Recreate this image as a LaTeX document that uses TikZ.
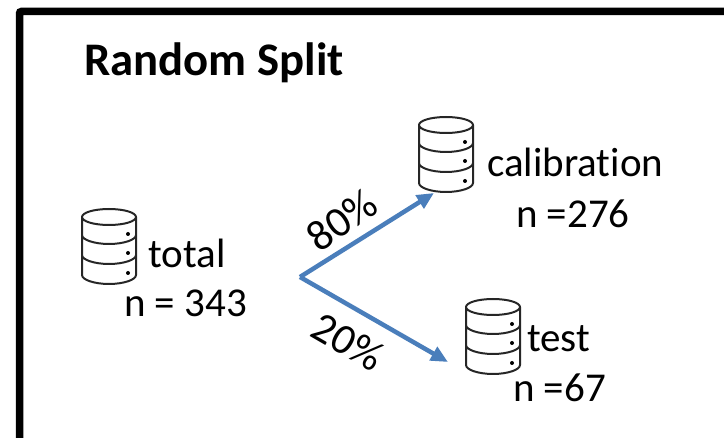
\documentclass[tikz,border=0pt]{standalone}
\usepackage{fontspec}
\setmainfont[Ligatures=CommonOff]{Carlito}
\usetikzlibrary{arrows.meta}
\definecolor{arrowblue}{HTML}{4A7EBB}
\tikzset{
  lbl/.style={inner sep=0pt,font=\fontsize{41}{41}\selectfont,text=black},
  ttl/.style={inner sep=0pt,font=\fontsize{46.7}{46.7}\selectfont\bfseries,text=black},
  pct/.style={inner sep=0pt,font=\fontsize{43}{43}\selectfont,text=black},
  flow/.style={draw=arrowblue,line width=4.5pt,-{Triangle[length=17pt,width=15pt]}},
  db/.pic={
    \draw[line width=2pt,black!85,line join=round]
      (-27,-30) arc[start angle=180,end angle=-180,x radius=27,y radius=8]
      (-27,-30) -- (-27,28) .. controls (-27,33) and (-14,37) .. (0,37) .. controls (14,37) and (27,33) .. (27,28) -- (27,-30)
      (-27,-12) .. controls (-27,-7) and (-14,-3) .. (0,-3) .. controls (14,-3) and (27,-7) .. (27,-12)
      (-27,8) .. controls (-27,13) and (-14,17) .. (0,17) .. controls (14,17) and (27,13) .. (27,8);
    \fill[black] (19,-13) circle (2pt) (19,6) circle (2pt) (19,26) circle (2pt);
  }
}
\begin{document}
\begin{tikzpicture}[x=1pt,y=-1pt]
\useasboundingbox (0,0) rectangle (724,438);
\begin{scope}
\clip (0,0) rectangle (724,438);
\draw[line width=7.5pt,black,rounded corners=2pt] (19.5,460) -- (19.5,11.5) -- (760,11.5);
\end{scope}
\node[ttl,anchor=base west] (title) at (84,75.5) {Random Split};
\pic at (109,247) {db};
\pic at (446,155) {db};
\pic at (493,337) {db};
\node[lbl,anchor=base west] (total) at (148,267.5) {total};
\node[lbl,anchor=base west] (ntotal) at (124,317) {n = 343};
\node[lbl,anchor=base west] (calib) at (487,177) {calibration};
\node[lbl,anchor=base west] (ncalib) at (516,228) {n =276};
\node[lbl,anchor=base west] (test) at (527,352) {test};
\node[lbl,anchor=base west] (ntest) at (513,402) {n =67};
\coordinate (split) at (300,277);
\coordinate (calend) at (434,193);
\coordinate (testend) at (448,362);
\draw[flow] (split) -- (calend);
\draw[flow] (split) -- (testend);
\node[pct,rotate=35] (p80) at (342,220) {80\%};
\node[pct,rotate=-30] (p20) at (348,342) {20\%};
\end{tikzpicture}
\end{document}
